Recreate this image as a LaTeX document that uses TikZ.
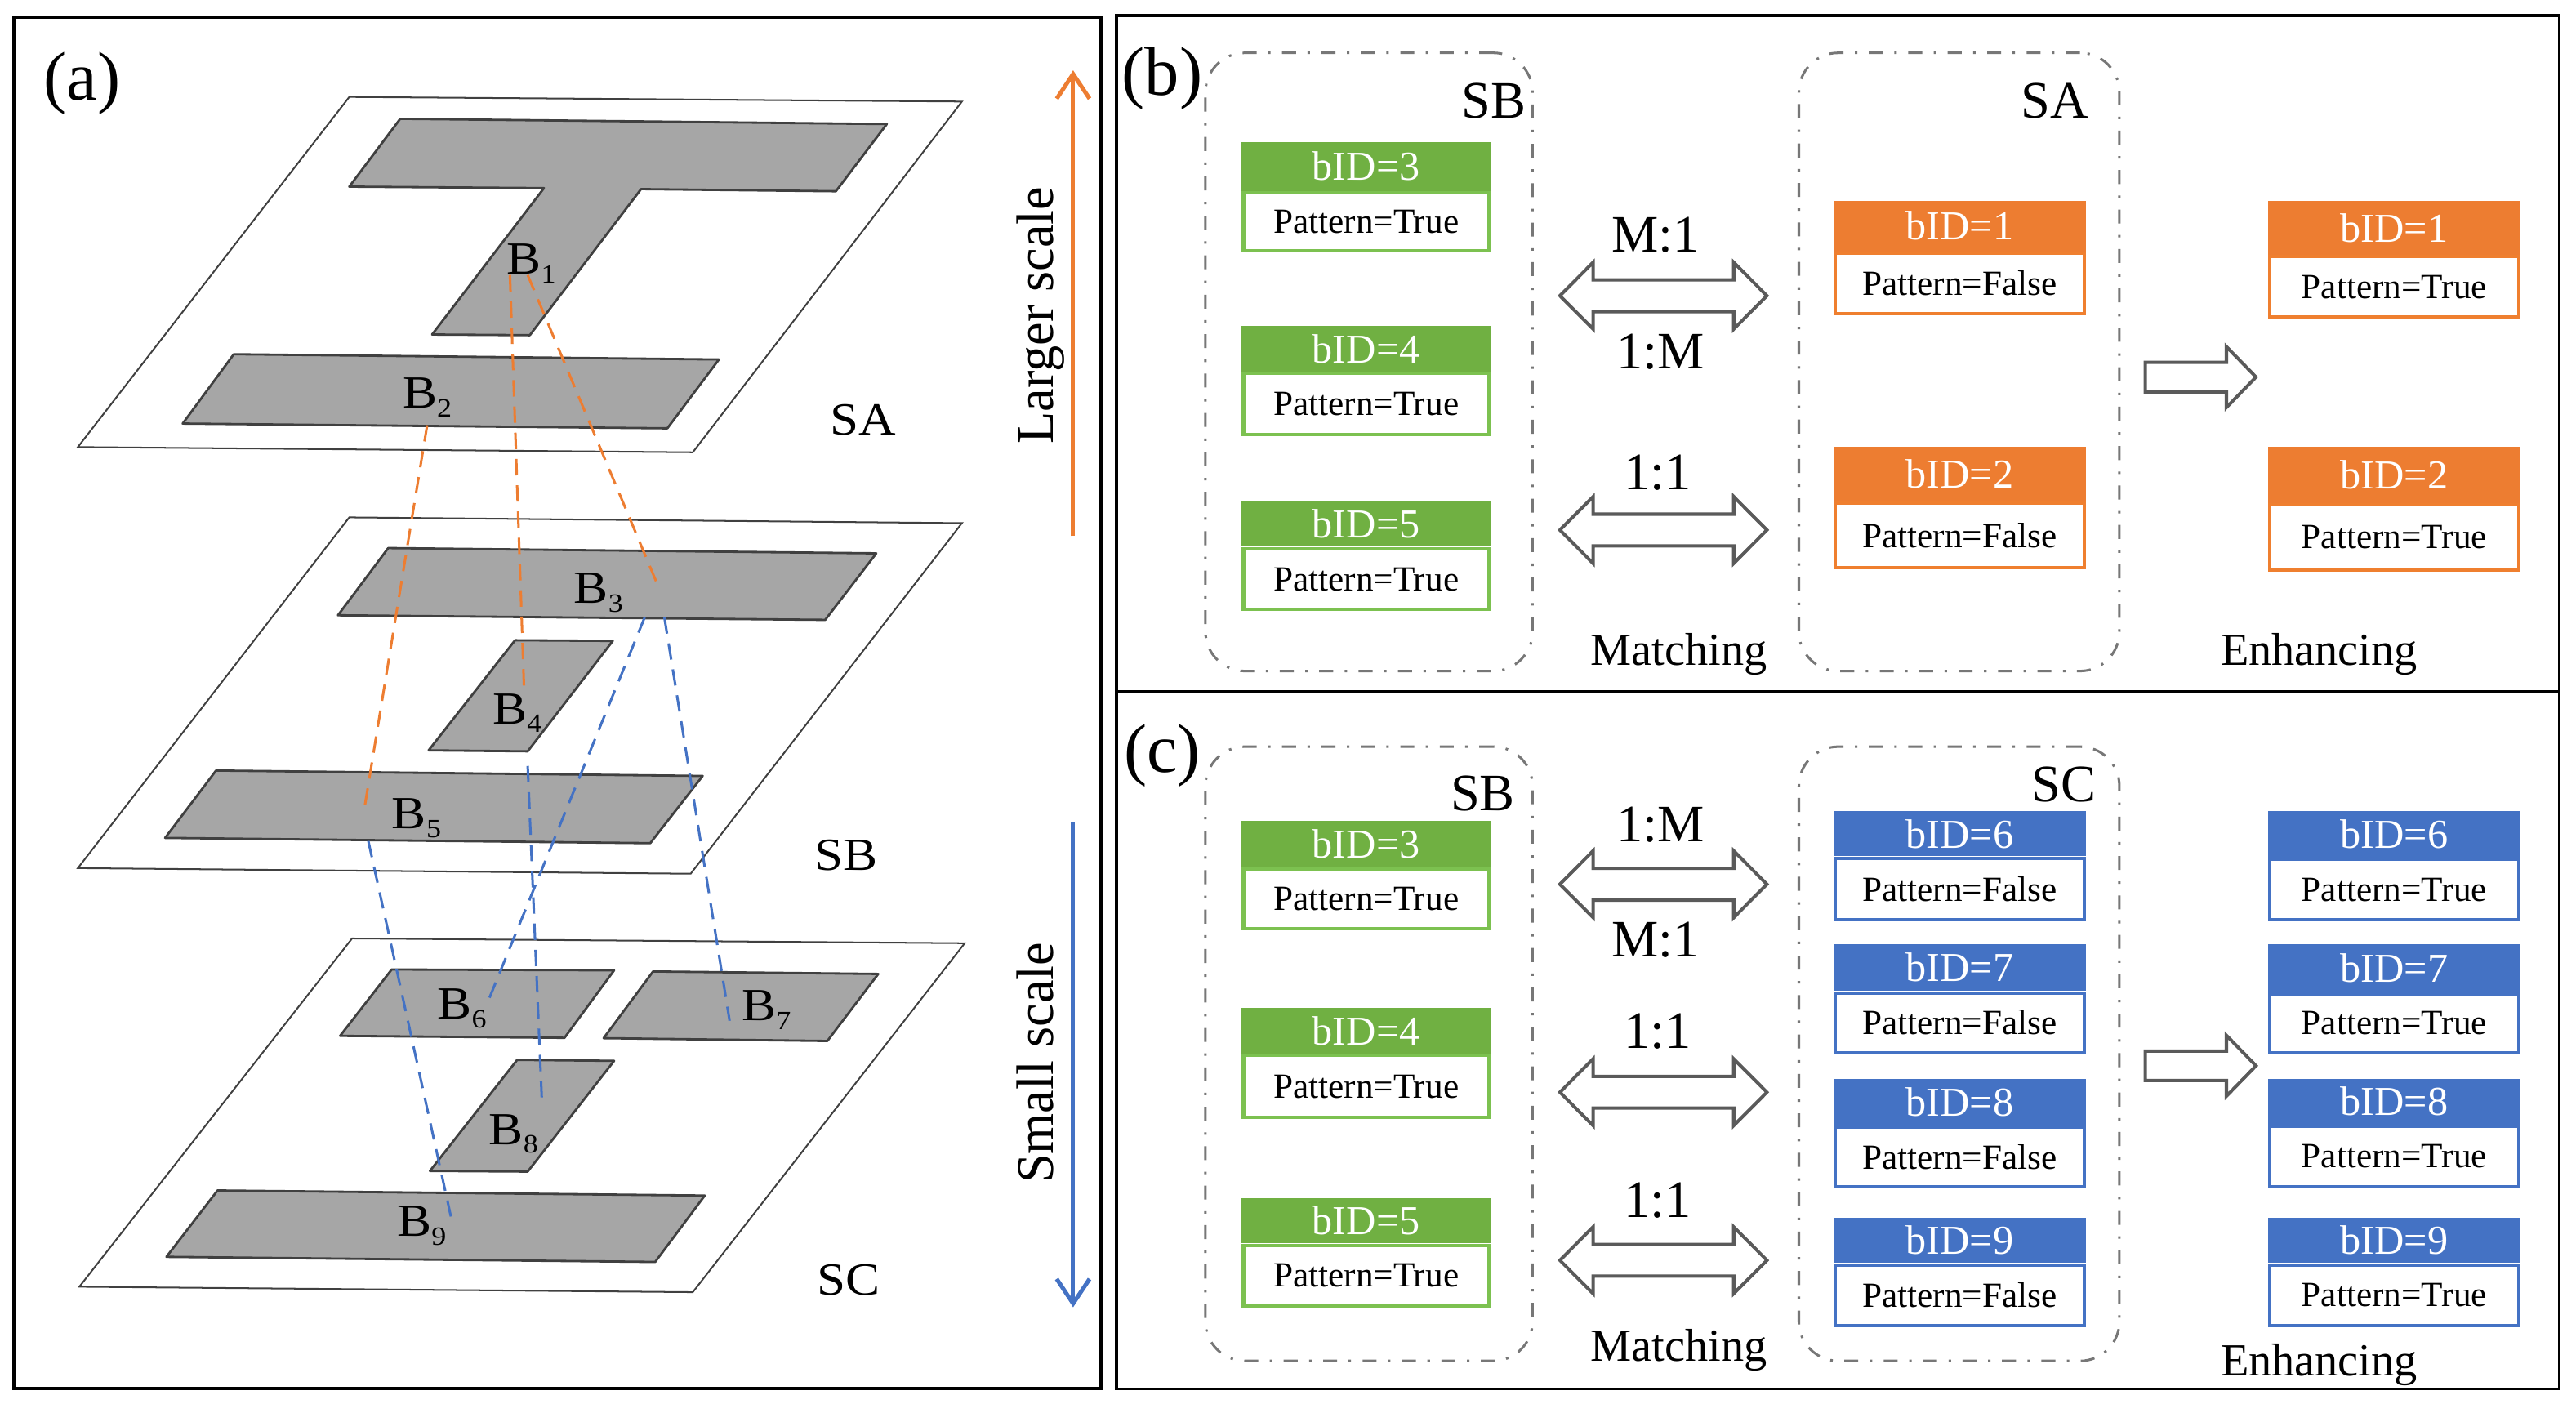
\documentclass[tikz,border=0pt]{standalone}
\usepackage{fontspec}
\setmainfont{Liberation Serif}
\newfontfamily\afont[FakeStretch=1.12]{Liberation Serif}
\usetikzlibrary{arrows.meta}
\definecolor{org}{HTML}{ED7D31}
\definecolor{orgb}{HTML}{EF7F2F}
\definecolor{blu}{HTML}{4472C4}
\definecolor{blub}{HTML}{4472C4}
\definecolor{grn}{HTML}{70B042}
\definecolor{grnb}{HTML}{7CC150}
\definecolor{bfill}{HTML}{A6A6A6}
\definecolor{bline}{HTML}{404040}
\definecolor{arrgray}{HTML}{5A5A5A}
\definecolor{grpgray}{HTML}{777777}
\newcommand\fs[1]{\fontsize{#1}{#1}\selectfont}
\newcommand\blab[1]{B\raisebox{-5.3pt}{\fs{16}#1}}
\tikzset{
  frame/.style={draw=black, line width=1.8},
  plane/.style={draw=bline, line width=1, fill=white},
  bldg/.style={draw=bline, line width=1.4, fill=bfill, line join=round},
  odash/.style={draw=org, line width=1.5, dash pattern=on 10pt off 6pt},
  bdash/.style={draw=blu, line width=1.5, dash pattern=on 10pt off 6pt},
  sarrow/.style={line width=2.5, -{Straight Barb[length=15pt,width=20pt,line width=2.5pt]}},
  alab/.style={inner sep=0, anchor=base west, font=\afont\fs{28}},
  grp/.style={rectangle, draw=grpgray, line width=1.5, dash pattern=on 8.5pt off 7pt on 1.5pt off 7pt, rounded corners=24pt, inner sep=0},
  hdr/.style={rectangle, draw=none, inner sep=0, text=white, font=\fs{25}},
  bdy/.style={rectangle, fill=white, line width=2, inner sep=0, font=\fs{21.5}},
  lbl/.style={inner sep=0, font=\fs{32}},
  act/.style={inner sep=0, font=\fs{28}},
  plab/.style={inner sep=0, font=\fs{42}},
  arrsty/.style={draw=arrgray, line width=2, fill=white, line join=miter},
  pics/dblarr/.style={code={
    \draw[arrsty] (-63,0) -- (-42.8,-20.3) -- (-42.8,-9.65) -- (42.8,-9.65) -- (42.8,-20.3)
      -- (63,0) -- (42.8,20.3) -- (42.8,9.65) -- (-42.8,9.65) -- (-42.8,20.3) -- cycle;}},
  pics/sglarr/.style={code={
    \draw[arrsty] (-33.7,-9) -- (15.7,-9) -- (15.7,-18.5) -- (33.7,0) -- (15.7,18.5)
      -- (15.7,9) -- (-33.7,9) -- cycle;}}
}
\newcommand\pbox[9]{%
  \node[hdr, fill=#7, minimum width=#6, minimum height=#4, anchor=north west] (#1h) at (#2,#3) {bID=#8};
  \node[bdy, draw=#7b, minimum width=#6-2, minimum height=#5-1, anchor=north] (#1) at (#1h.south) {Pattern=#9};
}
\begin{document}
\begin{tikzpicture}[x=1pt,y=-1pt]
\useasboundingbox (0,0) rectangle (1568,860);
\fill[white] (0,0) rectangle (1568,860);

% ---------- frames ----------
\draw[frame] (8.6,10.5) rectangle (670.2,845.2);
\draw[frame] (679.6,9.5) rectangle (1557.8,421);
\draw[frame] (679.6,421) rectangle (1557.8,845.4);

% ---------- panel (a) ----------
\node[plab] (pa) at (50,51) {(a)};

% SA layer
\draw[plane] (212.6,59.0) -- (585.5,61.8) -- (421.7,275.3) -- (47.4,272.1) -- cycle;
\draw[bldg] (243.6,72.3) -- (539.8,75.5) -- (508.8,116.4) -- (390.2,115.1) -- (322.5,204)
  -- (263,203.6) -- (331.1,114.5) -- (212.6,113.6) -- cycle;
\draw[bldg] (142.3,215.6) -- (437.6,218.8) -- (406.2,260.7) -- (111.2,257.8) -- cycle;
% SB layer
\draw[plane] (212.6,314.9) -- (585.5,318.4) -- (420.4,531.8) -- (47.4,528.4) -- cycle;
\draw[bldg] (236.3,333.6) -- (533.4,336.8) -- (502.3,377.3) -- (205.7,374.5) -- cycle;
\draw[bldg] (313.5,389.7) -- (373,390.1) -- (321.2,457.3) -- (260.9,456.7) -- cycle;
\draw[bldg] (131.5,469) -- (427.7,472.3) -- (395.8,513.2) -- (100.5,510) -- cycle;
% SC layer
\draw[plane] (214.3,571.2) -- (587.2,574.1) -- (421.7,786.5) -- (48.3,783.2) -- cycle;
\draw[bldg] (238.4,590.1) -- (373.8,590.6) -- (343.6,631.7) -- (207,630.5) -- cycle;
\draw[bldg] (397.5,591.3) -- (534.6,592.8) -- (503.6,633.6) -- (367.4,631.9) -- cycle;
\draw[bldg] (314.8,645.1) -- (373.8,645.7) -- (321.2,713.1) -- (261.7,712.7) -- cycle;
\draw[bldg] (132.4,724.6) -- (429,727.7) -- (398.8,768.1) -- (101.3,765) -- cycle;

% dashed correspondence lines
\coordinate (o1s) at (310.4,167.4); \coordinate (o1e) at (319.1,422.4);
\coordinate (o2s) at (321.2,167.4); \coordinate (o2e) at (401,357.7);
\coordinate (o3s) at (260,258.8);   \coordinate (o3e) at (222,490.9);
\coordinate (b1s) at (392.4,375.8); \coordinate (b1e) at (297.5,608.4);
\coordinate (b2s) at (404.4,375.8); \coordinate (b2e) at (444.1,621.3);
\coordinate (b3s) at (321.2,466.2); \coordinate (b3e) at (329.8,669);
\coordinate (b4s) at (224.2,511.9); \coordinate (b4e) at (275.1,743.4);
\draw[odash] (o1s) -- (o1e);
\draw[odash] (o2s) -- (o2e);
\draw[odash] (o3s) -- (o3e);
\draw[bdash] (b1s) -- (b1e);
\draw[bdash] (b2s) -- (b2e);
\draw[bdash] (b3s) -- (b3e);
\draw[bdash] (b4s) -- (b4e);

% building labels
\node[alab] (lB1) at (308.3,166.9) {\blab{1}};
\node[alab] (lB2) at (244.9,248.3) {\blab{2}};
\node[alab] (lB3) at (349.2,367.3) {\blab{3}};
\node[alab] (lB4) at (299.7,440.5) {\blab{4}};
\node[alab] (lB5) at (238.4,504.3) {\blab{5}};
\node[alab] (lB6) at (266,620.4) {\blab{6}};
\node[alab] (lB7) at (451.4,621.3) {\blab{7}};
\node[alab] (lB8) at (297.5,696.5) {\blab{8}};
\node[alab] (lB9) at (241.5,752.5) {\blab{9}};
\node[alab] (lSA) at (505,264.5) {SA};
\node[alab] (lSB) at (495.5,529.5) {SB};
\node[alab] (lSC) at (497,788.3) {SC};

% scale arrows
\coordinate (oaS) at (653.2,326.3); \coordinate (oaE) at (653.2,42.8);
\coordinate (baS) at (653.2,500.4); \coordinate (baE) at (653.2,795.7);
\draw[sarrow, draw=org] (oaS) -- (oaE);
\draw[sarrow, draw=blu] (baS) -- (baE);
\node[rotate=90, anchor=base, inner sep=0, font=\fs{32}] (lgs) at (641,192) {Larger scale};
\node[rotate=90, anchor=base, inner sep=0, font=\fs{32}] (sms) at (641,647) {Small scale};

% ---------- panel (b) ----------
\node[plab] (pb) at (707.4,47.7) {(b)};
\node[grp, minimum width=199.1, minimum height=376.3, anchor=north west] (gSBb) at (733,31.4) {};
\node[grp, minimum width=195.1, minimum height=376.3, anchor=north west] (gSAb) at (1094.2,31.4) {};
\node[lbl] (tSBb) at (909.3,61.4) {SB};
\node[lbl] (tSAb) at (1250.6,61.4) {SA};

\pbox{bg3}{755.7}{86.2}{29.7}{36.3}{151.3}{grn}{3}{True}
\pbox{bg4}{755.7}{198.3}{27.5}{38.5}{151.3}{grn}{4}{True}
\pbox{bg5}{755.7}{304.6}{28}{38}{151.3}{grn}{5}{True}
\pbox{bo1}{1115.8}{121.9}{30.8}{37.7}{153.6}{org}{1}{False}
\pbox{bo2}{1115.8}{271.9}{33}{40.1}{153.6}{org}{2}{False}
\pbox{br1}{1380.3}{121.9}{33}{37.6}{153.6}{org}{1}{True}
\pbox{br2}{1380.3}{271.9}{34.1}{40.4}{153.6}{org}{2}{True}

\pic at (1012.5,180) {dblarr};
\pic at (1012.5,322.6) {dblarr};
\pic at (1339.5,229.5) {sglarr};
\node[lbl] (rb1) at (1007.7,143.2) {M:1};
\node[lbl] (rb2) at (1010.6,214) {1:M};
\node[lbl] (rb3) at (1009,287.7) {1:1};
\node[act] (mb) at (1021.9,398.2) {Matching};
\node[act] (eb) at (1411.6,398.2) {Enhancing};

% ---------- panel (c) ----------
\node[plab] (pc) at (707.4,459.9) {(c)};
\node[grp, minimum width=199.1, minimum height=373.9, anchor=north west] (gSBc) at (733,453.7) {};
\node[grp, minimum width=195.1, minimum height=373.9, anchor=north west] (gSCc) at (1094.2,453.7) {};
\node[lbl] (tSBc) at (902.5,483) {SB};
\node[lbl] (tSCc) at (1256.3,477.6) {SC};

\pbox{cg3}{755.7}{499.3}{28.2}{37.5}{151.3}{grn}{3}{True}
\pbox{cg4}{755.7}{613.5}{27.6}{38.6}{151.3}{grn}{4}{True}
\pbox{cg5}{755.7}{729}{27.6}{38.1}{151.3}{grn}{5}{True}
\pbox{cb6}{1115.8}{493.7}{27.3}{38.4}{153.6}{blu}{6}{False}
\pbox{cb7}{1115.8}{574.6}{28.4}{37.2}{153.6}{blu}{7}{False}
\pbox{cb8}{1115.8}{656.3}{28.2}{37.5}{153.6}{blu}{8}{False}
\pbox{cb9}{1115.8}{740.9}{27.6}{38}{153.6}{blu}{9}{False}
\pbox{cr6}{1380.3}{493.7}{28.1}{37.6}{153.6}{blu}{6}{True}
\pbox{cr7}{1380.3}{574.6}{29}{36.6}{153.6}{blu}{7}{True}
\pbox{cr8}{1380.3}{656.3}{27.6}{38.1}{153.6}{blu}{8}{True}
\pbox{cr9}{1380.3}{740.9}{27.6}{38}{153.6}{blu}{9}{True}

\pic at (1012.5,538.2) {dblarr};
\pic at (1012.5,664.8) {dblarr};
\pic at (1012.5,767.1) {dblarr};
\pic at (1339.5,648.7) {sglarr};
\node[lbl] (rc1) at (1010.6,502.1) {1:M};
\node[lbl] (rc2) at (1007.7,572) {M:1};
\node[lbl] (rc3) at (1009,627.6) {1:1};
\node[lbl] (rc4) at (1009,730.5) {1:1};
\node[act] (mc) at (1021.9,822) {Matching};
\node[act] (ec) at (1411.6,830.5) {Enhancing};
\end{tikzpicture}
\end{document}
